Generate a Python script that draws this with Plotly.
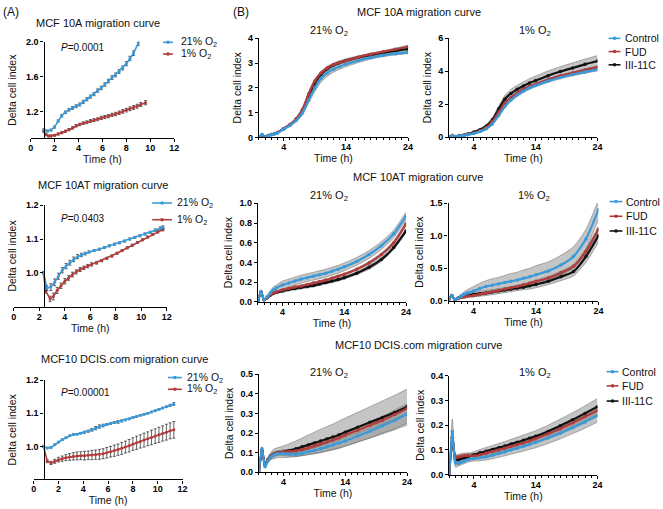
import plotly.graph_objects as go

W, H = 663, 509
BLUE = "#3A9AD9"
RED = "#B23B3B"
BLACK = "#111111"
BAND = "rgba(150,150,150,0.55)"
BAND_EDGE = "rgba(90,90,90,0.75)"
FONT = "Liberation Sans, Arial, sans-serif"

# ================= PANEL A DATA (21% vs 1% O2) =================
# MCF 10A
a1_t_hi = [1.1, 1.4, 1.7, 2.0, 2.3, 2.6, 2.9, 3.2, 3.5, 3.8, 4.1, 4.4, 4.7, 5.0, 5.3, 5.6, 5.9, 6.2, 6.5, 6.8, 7.1, 7.4, 7.7, 8.0, 8.3, 8.6, 9.0]
a1_v_hi = [0.99, 0.975, 0.985, 1.02, 1.09, 1.15, 1.19, 1.22, 1.24, 1.26, 1.28, 1.31, 1.34, 1.37, 1.40, 1.44, 1.47, 1.51, 1.55, 1.59, 1.62, 1.66, 1.70, 1.75, 1.81, 1.87, 1.99]
a1_e_hi = [0.01, 0.01, 0.01, 0.012, 0.012, 0.014, 0.015, 0.015, 0.016, 0.016, 0.017, 0.017, 0.018, 0.018, 0.019, 0.019, 0.02, 0.02, 0.021, 0.021, 0.022, 0.022, 0.023, 0.024, 0.025, 0.027, 0.03]
a1_t_lo = [1.1, 1.3, 1.5, 1.7, 2.0, 2.3, 2.6, 2.9, 3.2, 3.5, 3.8, 4.1, 4.4, 4.7, 5.0, 5.3, 5.6, 5.9, 6.2, 6.5, 6.8, 7.1, 7.4, 7.7, 8.0, 8.3, 8.6, 8.9, 9.2, 9.6]
a1_v_lo = [0.97, 0.93, 0.918, 0.918, 0.925, 0.94, 0.955, 0.972, 0.99, 1.01, 1.035, 1.05, 1.065, 1.075, 1.09, 1.10, 1.11, 1.125, 1.135, 1.145, 1.16, 1.17, 1.185, 1.20, 1.215, 1.23, 1.245, 1.26, 1.28, 1.30]
a1_e_lo = [0.008, 0.01, 0.01, 0.01, 0.01, 0.012, 0.012, 0.013, 0.013, 0.014, 0.014, 0.015, 0.015, 0.016, 0.016, 0.017, 0.017, 0.018, 0.018, 0.019, 0.019, 0.02, 0.02, 0.021, 0.021, 0.022, 0.022, 0.023, 0.023, 0.024]

# MCF 10AT
a2_t_hi = [2.33, 2.6, 2.9, 3.2, 3.5, 3.8, 4.1, 4.4, 4.7, 5.0, 5.3, 5.6, 5.9, 6.3, 6.7, 7.1, 7.5, 7.9, 8.3, 8.7, 9.1, 9.5, 9.9, 10.3, 10.7, 11.1, 11.5, 11.7]
a2_v_hi = [1.0, 0.955, 0.958, 0.972, 0.99, 1.008, 1.02, 1.03, 1.04, 1.048, 1.053, 1.057, 1.062, 1.066, 1.07, 1.075, 1.08, 1.085, 1.089, 1.094, 1.10, 1.105, 1.11, 1.115, 1.12, 1.126, 1.132, 1.135]
a2_e_hi = [0.003, 0.008, 0.01, 0.01, 0.009, 0.008, 0.008, 0.007, 0.007, 0.006, 0.005, 0.004, 0.003, 0.003, 0.003, 0.003, 0.003, 0.003, 0.003, 0.003, 0.003, 0.003, 0.003, 0.003, 0.003, 0.004, 0.004, 0.004]
a2_t_lo = [2.33, 2.5, 2.84, 3.1, 3.4, 3.7, 4.0, 4.3, 4.6, 4.9, 5.2, 5.5, 5.8, 6.1, 6.5, 6.9, 7.3, 7.7, 8.1, 8.5, 8.9, 9.3, 9.7, 10.1, 10.5, 10.9, 11.3, 11.7]
a2_v_lo = [1.0, 0.946, 0.923, 0.93, 0.948, 0.962, 0.975, 0.985, 0.995, 1.003, 1.01, 1.015, 1.02, 1.025, 1.03, 1.036, 1.043, 1.05, 1.058, 1.066, 1.074, 1.082, 1.09, 1.098, 1.106, 1.114, 1.122, 1.128]
a2_e_lo = [0.003, 0.006, 0.008, 0.01, 0.009, 0.008, 0.008, 0.007, 0.007, 0.006, 0.006, 0.005, 0.005, 0.005, 0.004, 0.003, 0.003, 0.003, 0.003, 0.003, 0.003, 0.003, 0.003, 0.003, 0.003, 0.003, 0.004, 0.004]

# MCF10 DCIS.com
a3_t = [0.8, 1.1, 1.4, 1.7, 2.0, 2.3, 2.6, 2.9, 3.2, 3.5, 3.8, 4.1, 4.4, 4.7, 5.0, 5.3, 5.6, 5.9, 6.2, 6.5, 6.8, 7.1, 7.4, 7.7, 8.0, 8.3, 8.6, 8.9, 9.2, 9.5, 9.8, 10.1, 10.4, 10.7, 11.0, 11.3]
a3_v_hi = [1.0, 0.995, 0.997, 1.005, 1.013, 1.02, 1.026, 1.032, 1.036, 1.037, 1.04, 1.043, 1.046, 1.05, 1.055, 1.06, 1.063, 1.066, 1.069, 1.072, 1.074, 1.077, 1.08, 1.083, 1.087, 1.09, 1.094, 1.097, 1.10, 1.104, 1.108, 1.112, 1.116, 1.12, 1.124, 1.128]
a3_e_hi = [0.002, 0.002, 0.002, 0.002, 0.002, 0.002, 0.002, 0.002, 0.002, 0.002, 0.002, 0.003, 0.003, 0.004, 0.005, 0.005, 0.004, 0.003, 0.003, 0.003, 0.004, 0.003, 0.002, 0.002, 0.002, 0.002, 0.002, 0.002, 0.002, 0.002, 0.002, 0.002, 0.002, 0.002, 0.003, 0.004]
a3_v_lo = [1.0, 0.955, 0.95, 0.955, 0.96, 0.963, 0.966, 0.968, 0.97, 0.971, 0.972, 0.972, 0.973, 0.974, 0.975, 0.976, 0.978, 0.981, 0.984, 0.987, 0.99, 0.994, 0.998, 1.002, 1.007, 1.011, 1.015, 1.019, 1.023, 1.027, 1.031, 1.035, 1.039, 1.043, 1.047, 1.05]
a3_e_lo = [0.003, 0.004, 0.005, 0.006, 0.007, 0.008, 0.009, 0.01, 0.011, 0.012, 0.012, 0.013, 0.013, 0.014, 0.014, 0.015, 0.015, 0.016, 0.016, 0.017, 0.017, 0.018, 0.018, 0.019, 0.019, 0.02, 0.02, 0.021, 0.021, 0.022, 0.022, 0.023, 0.023, 0.024, 0.024, 0.025]

# ================= PANEL B DATA (Control / FUD / III-11C) =================
b_t = [0, 0.5, 1, 1.5, 2, 2.5, 3, 4, 5, 6, 7, 8, 9, 10, 11, 12, 13, 14, 16, 18, 20, 22, 24]

# MCF 10A, 21% O2
b1_ctrl = [0, 0.12, 0.02, 0.06, 0.1, 0.14, 0.18, 0.33, 0.48, 0.68, 0.98, 1.5, 2.0, 2.38, 2.6, 2.75, 2.86, 2.95, 3.1, 3.22, 3.31, 3.38, 3.43]
b1_fud = [0, 0.1, 0.02, 0.07, 0.12, 0.16, 0.2, 0.36, 0.52, 0.75, 1.12, 1.75, 2.28, 2.6, 2.8, 2.93, 3.02, 3.1, 3.24, 3.36, 3.46, 3.56, 3.66]
b1_iii = [0, 0.1, 0.02, 0.07, 0.11, 0.15, 0.19, 0.35, 0.5, 0.72, 1.06, 1.65, 2.2, 2.55, 2.77, 2.92, 3.02, 3.1, 3.23, 3.33, 3.42, 3.5, 3.57]
b1_ctrl_sd = [0, 0.03, 0.02, 0.02, 0.02, 0.02, 0.02, 0.03, 0.04, 0.05, 0.08, 0.12, 0.15, 0.15, 0.14, 0.12, 0.11, 0.1, 0.08, 0.06, 0.05, 0.05, 0.05]
b1_fud_sd = [0, 0.02, 0.01, 0.01, 0.01, 0.01, 0.01, 0.02, 0.03, 0.04, 0.06, 0.08, 0.08, 0.07, 0.06, 0.05, 0.05, 0.05, 0.04, 0.04, 0.04, 0.05, 0.06]
b1_iii_sd = [0, 0.02, 0.01, 0.01, 0.01, 0.01, 0.01, 0.02, 0.03, 0.04, 0.06, 0.08, 0.1, 0.1, 0.09, 0.08, 0.07, 0.07, 0.06, 0.05, 0.05, 0.05, 0.05]

# MCF 10A, 1% O2
b2_ctrl = [0, 0.1, 0.02, 0.05, 0.08, 0.11, 0.14, 0.22, 0.33, 0.5, 0.8, 1.3, 1.85, 2.25, 2.55, 2.78, 2.98, 3.13, 3.4, 3.62, 3.8, 3.96, 4.1]
b2_fud = [0, 0.1, 0.02, 0.05, 0.09, 0.12, 0.16, 0.25, 0.38, 0.58, 0.95, 1.5, 2.05, 2.4, 2.68, 2.9, 3.08, 3.22, 3.5, 3.72, 3.9, 4.08, 4.25]
b2_iii = [0, 0.1, 0.03, 0.07, 0.1, 0.14, 0.18, 0.3, 0.45, 0.66, 1.05, 1.7, 2.3, 2.65, 2.9, 3.1, 3.28, 3.43, 3.73, 3.98, 4.2, 4.42, 4.62]
b2_ctrl_sd = [0, 0.02, 0.01, 0.01, 0.01, 0.01, 0.02, 0.02, 0.03, 0.04, 0.05, 0.07, 0.08, 0.08, 0.08, 0.08, 0.08, 0.08, 0.08, 0.08, 0.08, 0.08, 0.08]
b2_fud_sd = [0, 0.02, 0.01, 0.01, 0.01, 0.01, 0.02, 0.02, 0.03, 0.04, 0.05, 0.06, 0.06, 0.06, 0.06, 0.06, 0.06, 0.06, 0.06, 0.06, 0.06, 0.07, 0.07]
b2_iii_sd = [0, 0.02, 0.02, 0.02, 0.03, 0.03, 0.04, 0.06, 0.08, 0.1, 0.13, 0.18, 0.22, 0.24, 0.25, 0.26, 0.27, 0.28, 0.29, 0.3, 0.31, 0.32, 0.33]

# MCF 10AT, 21% O2
b3_ctrl = [0, 0.1, 0.02, 0.05, 0.09, 0.12, 0.14, 0.17, 0.19, 0.21, 0.23, 0.245, 0.26, 0.275, 0.29, 0.31, 0.33, 0.355, 0.41, 0.48, 0.57, 0.69, 0.87]
b3_fud = [0, 0.1, 0.02, 0.04, 0.07, 0.09, 0.1, 0.12, 0.135, 0.15, 0.16, 0.175, 0.19, 0.205, 0.22, 0.24, 0.26, 0.28, 0.33, 0.395, 0.48, 0.6, 0.79]
b3_iii = [0, 0.1, 0.02, 0.04, 0.065, 0.085, 0.095, 0.11, 0.125, 0.135, 0.145, 0.155, 0.165, 0.18, 0.195, 0.21, 0.225, 0.245, 0.29, 0.35, 0.43, 0.55, 0.72]
b3_ctrl_sd = [0, 0.01, 0.01, 0.01, 0.02, 0.03, 0.03, 0.04, 0.04, 0.04, 0.04, 0.04, 0.04, 0.04, 0.04, 0.04, 0.04, 0.04, 0.04, 0.04, 0.04, 0.04, 0.04]
b3_fud_sd = [0, 0.01, 0.01, 0.01, 0.01, 0.01, 0.01, 0.01, 0.01, 0.01, 0.01, 0.01, 0.01, 0.01, 0.01, 0.01, 0.01, 0.01, 0.01, 0.015, 0.015, 0.02, 0.02]
b3_iii_sd = [0, 0.01, 0.01, 0.01, 0.01, 0.01, 0.01, 0.015, 0.015, 0.015, 0.015, 0.015, 0.015, 0.015, 0.015, 0.015, 0.015, 0.015, 0.015, 0.02, 0.02, 0.02, 0.02]

# MCF 10AT, 1% O2
b4_ctrl = [0, 0.08, 0.02, 0.04, 0.07, 0.1, 0.12, 0.15, 0.19, 0.22, 0.24, 0.26, 0.28, 0.3, 0.32, 0.345, 0.37, 0.4, 0.46, 0.55, 0.68, 0.95, 1.4]
b4_fud = [0, 0.08, 0.02, 0.03, 0.05, 0.06, 0.07, 0.08, 0.1, 0.12, 0.14, 0.16, 0.18, 0.2, 0.22, 0.245, 0.27, 0.3, 0.35, 0.43, 0.53, 0.76, 1.1]
b4_iii = [0, 0.08, 0.02, 0.04, 0.06, 0.07, 0.08, 0.1, 0.11, 0.12, 0.135, 0.15, 0.165, 0.18, 0.195, 0.21, 0.23, 0.25, 0.3, 0.37, 0.45, 0.68, 1.0]
b4_ctrl_sd = [0, 0.02, 0.01, 0.02, 0.03, 0.04, 0.05, 0.07, 0.08, 0.09, 0.1, 0.1, 0.11, 0.12, 0.12, 0.13, 0.13, 0.14, 0.14, 0.15, 0.15, 0.15, 0.15]
b4_fud_sd = [0, 0.01, 0.01, 0.01, 0.01, 0.01, 0.01, 0.02, 0.02, 0.02, 0.02, 0.02, 0.02, 0.02, 0.02, 0.02, 0.02, 0.02, 0.03, 0.03, 0.03, 0.04, 0.05]
b4_iii_sd = [0, 0.01, 0.01, 0.02, 0.02, 0.03, 0.03, 0.04, 0.04, 0.04, 0.04, 0.04, 0.04, 0.04, 0.04, 0.04, 0.05, 0.05, 0.05, 0.06, 0.07, 0.09, 0.1]

# MCF10 DCIS.com, 21% O2
b5_ctrl = [0, 0.12, 0.03, 0.06, 0.08, 0.09, 0.095, 0.095, 0.093, 0.092, 0.097, 0.105, 0.112, 0.12, 0.13, 0.14, 0.15, 0.16, 0.185, 0.21, 0.238, 0.265, 0.297]
b5_fud = [0, 0.11, 0.04, 0.065, 0.085, 0.095, 0.1, 0.105, 0.107, 0.11, 0.117, 0.125, 0.135, 0.145, 0.155, 0.165, 0.177, 0.19, 0.215, 0.24, 0.265, 0.295, 0.325]
b5_iii = [0, 0.11, 0.04, 0.065, 0.085, 0.095, 0.1, 0.105, 0.112, 0.12, 0.13, 0.14, 0.15, 0.16, 0.17, 0.18, 0.192, 0.205, 0.23, 0.255, 0.28, 0.305, 0.333]
b5_ctrl_sd = [0, 0.01, 0.01, 0.01, 0.01, 0.01, 0.01, 0.01, 0.01, 0.01, 0.012, 0.014, 0.016, 0.018, 0.02, 0.022, 0.024, 0.026, 0.03, 0.034, 0.038, 0.042, 0.046]
b5_fud_sd = [0, 0.01, 0.01, 0.01, 0.01, 0.01, 0.01, 0.01, 0.01, 0.01, 0.01, 0.01, 0.01, 0.01, 0.012, 0.012, 0.014, 0.014, 0.016, 0.018, 0.02, 0.022, 0.024]
b5_iii_sd = [0, 0.02, 0.01, 0.015, 0.02, 0.025, 0.025, 0.03, 0.035, 0.04, 0.045, 0.05, 0.055, 0.06, 0.063, 0.066, 0.07, 0.072, 0.076, 0.08, 0.084, 0.088, 0.092]

# MCF10 DCIS.com, 1% O2
b6_ctrl = [0, 0.175, 0.05, 0.045, 0.05, 0.055, 0.06, 0.065, 0.068, 0.072, 0.078, 0.085, 0.092, 0.1, 0.107, 0.114, 0.122, 0.13, 0.148, 0.168, 0.19, 0.213, 0.238]
b6_fud = [0, 0.15, 0.07, 0.072, 0.075, 0.077, 0.078, 0.075, 0.08, 0.087, 0.094, 0.1, 0.107, 0.114, 0.121, 0.128, 0.136, 0.145, 0.165, 0.186, 0.21, 0.235, 0.26]
b6_iii = [0, 0.15, 0.06, 0.06, 0.065, 0.068, 0.072, 0.08, 0.088, 0.095, 0.102, 0.109, 0.116, 0.124, 0.131, 0.139, 0.147, 0.155, 0.175, 0.198, 0.222, 0.248, 0.275]
b6_ctrl_sd = [0, 0.05, 0.02, 0.01, 0.01, 0.01, 0.01, 0.01, 0.012, 0.013, 0.014, 0.015, 0.016, 0.017, 0.018, 0.019, 0.02, 0.021, 0.022, 0.023, 0.024, 0.025, 0.025]
b6_fud_sd = [0, 0.03, 0.01, 0.01, 0.01, 0.01, 0.01, 0.01, 0.01, 0.01, 0.01, 0.01, 0.01, 0.01, 0.012, 0.012, 0.012, 0.014, 0.014, 0.016, 0.016, 0.018, 0.018]
b6_iii_sd = [0, 0.03, 0.02, 0.015, 0.012, 0.012, 0.012, 0.013, 0.014, 0.015, 0.016, 0.017, 0.018, 0.019, 0.02, 0.021, 0.022, 0.023, 0.025, 0.027, 0.029, 0.031, 0.033]

A_NAMES = ["21% O<sub>2</sub>", "1% O<sub>2</sub>"]
A_COLORS = [BLUE, RED]
B_NAMES = ["Control", "FUD", "III-11C"]
B_COLORS = [BLUE, RED, BLACK]


# pixel -> paper helpers (figure has no margins)
def fx(p):
    return p / W


def fy(p):
    return 1 - p / H


# ======= PANEL BOXES (pixels measured off the reference) =======
# (x0, x1, ytop, ybottom, yrange, yticks, yfmt, y-axis x position)
A_PANELS = [
    (28, 173.3, 37.7, 136, [0.89, 2.0], [1.2, 1.6, 2.0], ".1f", 41),
    (11, 165.7, 204.3, 307.7, [0.9, 1.2], [1.0, 1.1, 1.2], ".1f", 41),
    (31, 181.7, 382.7, 484, [0.9, 1.2], [1.0, 1.1, 1.2], ".1f", 41),
]
# (x0, x1, ytop, ybottom, yrange, yticks, yfmt)
B_PANELS = [
    (259, 410, 34, 135, [0, 4], [0, 1, 2, 3, 4], "d"),
    (451.7, 601.7, 34, 134.7, [0, 6], [0, 2, 4, 6], "d"),
    (258, 408, 202.3, 302.7, [0, 1], [0, 0.2, 0.4, 0.6, 0.8, 1.0], ".1f"),
    (451, 602.7, 202.3, 301.7, [0, 1.5], [0, 0.5, 1.0, 1.5], ".1f"),
    (259, 409, 376.7, 476.7, [0, 0.5], [0, 0.1, 0.2, 0.3, 0.4, 0.5], ".1f"),
    (451.7, 601.7, 378.3, 479, [0, 0.4], [0, 0.1, 0.2, 0.3, 0.4], ".1f"),
]

AXIS_COMMON = dict(
    showline=True, linecolor="black", linewidth=1.3, ticks="outside",
    ticklen=3, tickwidth=1.2, tickcolor="black", showgrid=False, zeroline=False,
    tickfont=dict(family=FONT, size=9, color="black", weight="bold"),
    title_font=dict(family=FONT, size=10.5, color="#111"),
)

fig = go.Figure()
layout = dict()

for i, (x0, x1, yt, yb, yr, yticks, yfmt, ypos) in enumerate(A_PANELS, start=1):
    layout["xaxis%d" % i] = dict(
        AXIS_COMMON, domain=[fx(x0), fx(x1)], range=[0, 12], anchor="y%d" % i,
        tickvals=[0, 2, 4, 6, 8, 10, 12], ticklabelstandoff=-2,
        title=dict(text="Time (h)", standoff=0),
    )
    layout["yaxis%d" % i] = dict(
        AXIS_COMMON, domain=[fy(yb), fy(yt)], range=yr, anchor="free", position=fx(ypos),
        tickvals=yticks, tickformat=yfmt, title=dict(text="Delta cell index", standoff=6),
    )

for j, (x0, x1, yt, yb, yr, yticks, yfmt) in enumerate(B_PANELS, start=4):
    layout["xaxis%d" % j] = dict(
        AXIS_COMMON, domain=[fx(x0), fx(x1)], range=[0, 24], anchor="y%d" % j,
        tickvals=[4, 14, 24], ticklabelstandoff=-2, title=dict(text="Time (h)", standoff=0),
        minor=dict(ticks="outside", ticklen=2, tickwidth=1, tickcolor="black", tick0=0, dtick=1),
    )
    layout["yaxis%d" % j] = dict(
        AXIS_COMMON, domain=[fy(yb), fy(yt)], range=yr, anchor="x%d" % j,
        tickvals=yticks, tickformat=yfmt, title=dict(text="Delta cell index", standoff=4),
    )

# ---------------- panel A traces ----------------
a_series = [
    (1, [(a1_t_hi, a1_v_hi, a1_e_hi), (a1_t_lo, a1_v_lo, a1_e_lo)]),
    (2, [(a2_t_hi, a2_v_hi, a2_e_hi), (a2_t_lo, a2_v_lo, a2_e_lo)]),
    (3, [(a3_t, a3_v_hi, a3_e_hi), (a3_t, a3_v_lo, a3_e_lo)]),
]
for ax, pair in a_series:
    for k in (1, 0):
        t, v, e = pair[k]
        fig.add_trace(go.Scatter(
            x=t, y=v, mode="lines+markers", name=A_NAMES[k], showlegend=False,
            line=dict(color=A_COLORS[k], width=1.6),
            marker=dict(size=3, color=A_COLORS[k]),
            error_y=dict(type="data", array=e, color="#222", thickness=0.7, width=1.5),
            xaxis="x%d" % ax, yaxis="y%d" % ax, cliponaxis=False,
        ))

# ---------------- panel B traces ----------------
b_series = [
    (4, (b1_ctrl, b1_ctrl_sd), (b1_fud, b1_fud_sd), (b1_iii, b1_iii_sd)),
    (5, (b2_ctrl, b2_ctrl_sd), (b2_fud, b2_fud_sd), (b2_iii, b2_iii_sd)),
    (6, (b3_ctrl, b3_ctrl_sd), (b3_fud, b3_fud_sd), (b3_iii, b3_iii_sd)),
    (7, (b4_ctrl, b4_ctrl_sd), (b4_fud, b4_fud_sd), (b4_iii, b4_iii_sd)),
    (8, (b5_ctrl, b5_ctrl_sd), (b5_fud, b5_fud_sd), (b5_iii, b5_iii_sd)),
    (9, (b6_ctrl, b6_ctrl_sd), (b6_fud, b6_fud_sd), (b6_iii, b6_iii_sd)),
]
for ax, *groups in b_series:
    xa, ya = "x%d" % ax, "y%d" % ax
    # grey SD bands first
    for mean, sd in groups[::-1]:
        hi = [m + s for m, s in zip(mean, sd)]
        lo = [m - s for m, s in zip(mean, sd)]
        fig.add_trace(go.Scatter(x=b_t, y=hi, mode="lines", showlegend=False, hoverinfo="skip",
                                 line=dict(color=BAND_EDGE, width=0.6, shape="spline", smoothing=0.6),
                                 xaxis=xa, yaxis=ya))
        fig.add_trace(go.Scatter(x=b_t, y=lo, mode="lines", showlegend=False, hoverinfo="skip",
                                 fill="tonexty", fillcolor=BAND,
                                 line=dict(color=BAND_EDGE, width=0.6, shape="spline", smoothing=0.6),
                                 xaxis=xa, yaxis=ya))
    # mean curves, control drawn last so it sits on top
    for k in (2, 1, 0):
        mean, sd = groups[k]
        fig.add_trace(go.Scatter(
            x=b_t, y=mean, mode="lines+markers", name=B_NAMES[k], showlegend=False,
            line=dict(color=B_COLORS[k], width=2.2, shape="spline", smoothing=0.6),
            marker=dict(size=3.5, color=B_COLORS[k]),
            xaxis=xa, yaxis=ya,
        ))

# ---------------- small Prism-style legends (glyph + label) ----------------
# (line x0, line x1, text x, row y positions, names, colours)
LEGENDS = [
    (162, 172, 178, [38, 50], A_NAMES, A_COLORS),
    (151, 171, 174, [202, 219], A_NAMES, A_COLORS),
    (167, 181, 184, [380, 392], A_NAMES, A_COLORS),
    (613, 625, 628, [34, 47.5, 61], B_NAMES, B_COLORS),
    (614, 627, 629, [200.5, 215.5, 230.5], B_NAMES, B_COLORS),
    (611, 623, 625, [374, 388.5, 404], B_NAMES, B_COLORS),
]
shapes = []
annotations = []
for l0, l1, tx, rows, names, colors in LEGENDS:
    for yrow, name, col in zip(rows, names, colors):
        cx = (l0 + l1) / 2
        shapes.append(dict(type="line", xref="paper", yref="paper", x0=fx(l0), x1=fx(l1),
                           y0=fy(yrow), y1=fy(yrow), line=dict(color=col, width=1.6)))
        shapes.append(dict(type="circle", xref="paper", yref="paper", x0=fx(cx - 1.8), x1=fx(cx + 1.8),
                           y0=fy(yrow + 1.8), y1=fy(yrow - 1.8), fillcolor=col, line=dict(width=0)))
        annotations.append(dict(text=name, x=fx(tx), y=fy(yrow), xref="paper", yref="paper",
                                showarrow=False, xanchor="left", yanchor="middle",
                                font=dict(family=FONT, size=10.5, color="#111")))


# ---------------- titles and notes ----------------
def note(text, x, y, size=11, xanchor="center"):
    return dict(text=text, x=fx(x), y=fy(y), xref="paper", yref="paper", showarrow=False,
                xanchor=xanchor, yanchor="middle",
                font=dict(family=FONT, size=size, color="#111"))


annotations += [
    note("(A)", -2, 7, size=12, xanchor="left"),
    note("(B)", 231, 7, size=12, xanchor="left"),
    note("MCF 10A migration curve", 96, 18),
    note("MCF 10AT migration curve", 101, 184),
    note("MCF10 DCIS.com migration curve", 36, 361, xanchor="left"),
    note("<i>P</i>=0.0001", 81, 43, size=10),
    note("<i>P</i>=0.0403", 81, 218, size=10),
    note("<i>P</i>=0.00001", 84, 395, size=10),
    note("MCF 10A migration curve", 421, 7),
    note("MCF 10AT migration curve", 420, 175),
    note("MCF10 DCIS.com migration curve", 421, 347),
    note("21% O<sub>2</sub>", 330, 27),
    note("1% O<sub>2</sub>", 538, 27),
    note("21% O<sub>2</sub>", 330, 195),
    note("1% O<sub>2</sub>", 537, 195),
    note("21% O<sub>2</sub>", 330, 375),
    note("1% O<sub>2</sub>", 538, 375),
]

fig.update_layout(
    width=W, height=H, margin=dict(l=0, r=0, t=0, b=0),
    paper_bgcolor="white", plot_bgcolor="white", showlegend=False,
    font=dict(family=FONT, size=10.5, color="#111"),
    annotations=annotations, shapes=shapes, **layout,
)

# the page body has an 8px default margin; drop it so the figure sits at the window origin
fig.write_html("out.html", config={"displayModeBar": False},
               post_script="document.body.style.margin='0px';")
